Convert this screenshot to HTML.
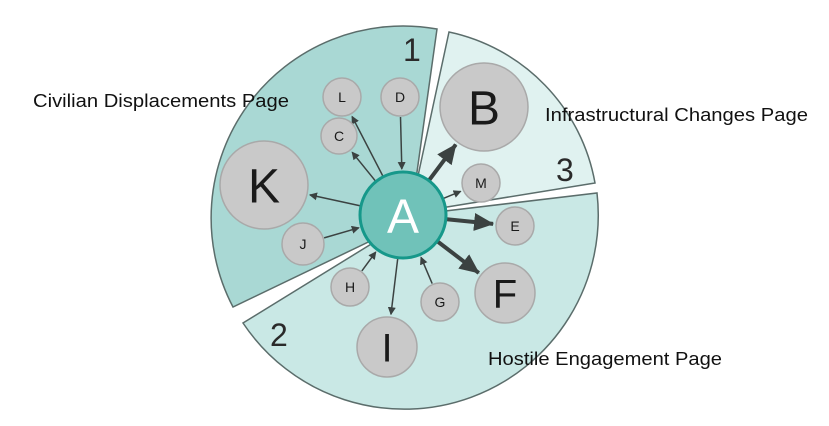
<!DOCTYPE html>
<html><head><meta charset="utf-8"><style>
html,body{margin:0;padding:0;background:#fff;width:829px;height:426px;overflow:hidden}
svg{display:block;font-family:"Liberation Sans",sans-serif}
</style></head><body>
<svg id="s" width="829" height="426" viewBox="0 0 829 426">
<defs>
<marker id="ah" markerWidth="8" markerHeight="8" refX="7" refY="4" orient="auto" markerUnits="userSpaceOnUse"><path d="M0,0 L8,4 L0,8 Z" fill="#3b4241"/></marker>
<marker id="ahb" markerWidth="20" markerHeight="18" refX="19" refY="9" orient="auto" markerUnits="userSpaceOnUse"><path d="M0,0 L20,9 L0,18 Z" fill="#3b4241"/></marker>
</defs>
<path d="M410,222 L233,307 A192,192 0 0 1 437,29 Z" fill="#a9d8d4" stroke="#5b6d6b" stroke-width="1.5"/>
<path d="M410,213 L449,32 A188,188 0 0 1 595,183 Z" fill="#e0f2f0" stroke="#5b6d6b" stroke-width="1.5"/>
<path d="M420,214 L597,193 A194,194 0 0 1 243,323 Z" fill="#c9e8e5" stroke="#5b6d6b" stroke-width="1.5"/>
<text x="403" y="61" font-size="32" fill="#2a2a2a">1</text>
<text x="556" y="181" font-size="32" fill="#2a2a2a">3</text>
<text x="270" y="346" font-size="32" fill="#2a2a2a">2</text>
<text x="33" y="107" font-size="18" textLength="256" lengthAdjust="spacingAndGlyphs" fill="#111">Civilian Displacements Page</text>
<text x="545" y="121" font-size="18" textLength="263" lengthAdjust="spacingAndGlyphs" fill="#111">Infrastructural Changes Page</text>
<text x="488" y="365" font-size="18" textLength="234" lengthAdjust="spacingAndGlyphs" fill="#111">Hostile Engagement Page</text>
<g id="edges"></g>
<g id="nodes"></g>
</svg>
<script>
const nodeIds=['A','B','C','D','E','F','G','H','I','J','K','L','M'];
const nodeX=[403,484,339,400,515,505,440,350,387,303,264,342,481];
const nodeY=[215,107,136,97,226,293,302,287,347,244,185,97,183];
const nodeR=[43,44,18,19,19,30,19,19,30,21,44,19,19];
const edgeFrom=['A','A','A','A','A','A','A','A','D','J','H','G'];
const edgeTo=['K','C','L','B','M','E','F','I','A','A','A','A'];
const edgeThick=[0,0,0,1,0,1,1,0,0,0,0,0];
const NS='http://www.w3.org/2000/svg';
const eg=document.getElementById('edges'),ng=document.getElementById('nodes');
function idx(k){return nodeIds.indexOf(k);}
edgeFrom.forEach((f,i)=>{
 const a=idx(f),b=idx(edgeTo[i]);
 const dx=nodeX[b]-nodeX[a],dy=nodeY[b]-nodeY[a],d=Math.hypot(dx,dy),ux=dx/d,uy=dy/d;
 const gap=3;
 const l=document.createElementNS(NS,'line');
 l.setAttribute('x1',nodeX[a]+ux*(nodeR[a]+1));l.setAttribute('y1',nodeY[a]+uy*(nodeR[a]+1));
 l.setAttribute('x2',nodeX[b]-ux*(nodeR[b]+gap));l.setAttribute('y2',nodeY[b]-uy*(nodeR[b]+gap));
 l.setAttribute('stroke','#3b4241');
 l.setAttribute('stroke-width',edgeThick[i]?4:1.5);
 l.setAttribute('marker-end',edgeThick[i]?'url(#ahb)':'url(#ah)');
 
 
 eg.appendChild(l);
});
nodeIds.forEach((k,i)=>{
 const g=document.createElementNS(NS,'g');
 
 
 const c=document.createElementNS(NS,'circle');
 c.setAttribute('cx',nodeX[i]);c.setAttribute('cy',nodeY[i]);c.setAttribute('r',nodeR[i]);
 if(k==='A'){c.setAttribute('fill','#70c2b9');c.setAttribute('stroke','#16988a');c.setAttribute('stroke-width','3');}
 else{c.setAttribute('fill','#c9c9c9');c.setAttribute('stroke','#a9a9a9');c.setAttribute('stroke-width','1.5');}
 g.appendChild(c);
 const t=document.createElementNS(NS,'text');
 const fs=nodeR[i]>=40?48:(nodeR[i]>=28?40:14);
 t.setAttribute('x',nodeX[i]);t.setAttribute('y',nodeY[i]+fs*0.36);
 t.setAttribute('text-anchor','middle');t.setAttribute('font-size',fs);
 t.setAttribute('fill',k==='A'?'#ffffff':'#1a1a1a');
 t.textContent=k;
 g.appendChild(t);
 ng.appendChild(g);
});
</script>
</body></html>
